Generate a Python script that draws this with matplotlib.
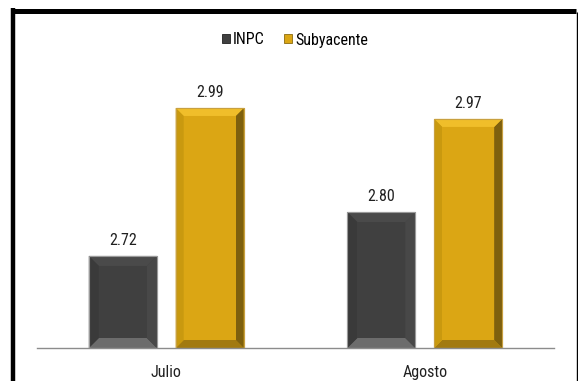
import matplotlib
matplotlib.use("Agg")
import matplotlib.pyplot as plt
from matplotlib.patches import Polygon, Rectangle
from matplotlib.lines import Line2D
import numpy as np

plt.rcParams['font.family'] = ['Roboto Condensed', 'Carlito', 'DejaVu Sans']

categories = ["Julio", "Agosto"]
series_names = ["INPC", "Subyacente"]
inpc = [2.72, 2.80]
subyacente = [2.99, 2.97]

W, H = 578, 381
fig = plt.figure(figsize=(W / 100, H / 100), dpi=100)
ax = fig.add_axes([37 / W, (H - 348) / H, (554 - 37) / W, (348 - 74) / H])
ax.set_xlim(-0.5, 1.5)
ax.set_ylim(2.552, 3.052)

x = np.arange(len(categories))
bw = 0.263
off = 0.168

styles = {
    "INPC": dict(face="#404040", top="#4a4a4a", left="#3a3a3a", right="#484848", bottom="#6c6c6c",
                 edge="#9a9a9a", bev=10),
    "Subyacente": dict(face="#DBA614", top="#F0BE2A", left="#C9990F", right="#7E600E", bottom="#A27A10",
                       edge="#C8A040", bev=8),
}

bars_all = []
for name, vals, o in [("INPC", inpc, -off), ("Subyacente", subyacente, off)]:
    st = styles[name]
    bars = ax.bar(x + o, vals, width=bw, bottom=0, color=st["face"], edgecolor=st["edge"], linewidth=0.8, zorder=2)
    bars_all.append((name, bars, vals))

fig.canvas.draw()
inv = ax.transData.inverted()
for name, bars, vals in bars_all:
    st = styles[name]
    bev = st["bev"]
    for b, v in zip(bars, vals):
        x0, y0 = b.get_x(), ax.get_ylim()[0]
        x1, y1 = b.get_x() + b.get_width(), v
        (px0, py0) = ax.transData.transform((x0, y0))
        (px1, py1) = ax.transData.transform((x1, y1))
        corners = [(px0, py0), (px1, py0), (px1, py1), (px0, py1)]
        inner = [(px0 + bev, py0 + bev), (px1 - bev, py0 + bev), (px1 - bev, py1 - bev), (px0 + bev, py1 - bev)]
        oc = inv.transform(corners)
        ic = inv.transform(inner)
        sides = [
            ([oc[0], oc[1], ic[1], ic[0]], st["bottom"]),
            ([oc[1], oc[2], ic[2], ic[1]], st["right"]),
            ([oc[2], oc[3], ic[3], ic[2]], st["top"]),
            ([oc[3], oc[0], ic[0], ic[3]], st["left"]),
        ]
        for pts, c in sides:
            ax.add_patch(Polygon(pts, closed=True, facecolor=c, edgecolor="none", zorder=3))
        ax.add_patch(Polygon(ic, closed=True, facecolor=st["face"], edgecolor="none", zorder=3))
        ax.add_patch(Rectangle((x0, y0), x1 - x0, y1 - y0, facecolor="none", edgecolor=st["edge"],
                               linewidth=0.8, zorder=4))
        ax.annotate(f"{v:.2f}", (b.get_x() + b.get_width() / 2, v), xytext=(0, 5.5),
                    textcoords="offset points", ha="center", va="bottom", fontsize=11.5, color="#202020")

for s in ["top", "right", "left"]:
    ax.spines[s].set_visible(False)
ax.spines["bottom"].set_color("#8c8c8c")
ax.spines["bottom"].set_linewidth(1.0)
ax.spines["bottom"].set_zorder(5)
ax.set_yticks([])
ax.set_xticks(x)
ax.set_xticklabels(categories, fontsize=11.5, color="#202020")
ax.tick_params(axis="x", length=0, pad=12)

handles = [Rectangle((0, 0), 1, 1, facecolor=styles[n]["face"],
                     edgecolor="#202020" if n == "INPC" else "#8a6a10", linewidth=0.6) for n in series_names]
fig.legend(handles, series_names, loc="center", bbox_to_anchor=(295 / W, 1 - 40 / H), ncol=2, frameon=False,
           fontsize=11.5, handlelength=0.5, handleheight=0.5, handletextpad=0.2, columnspacing=1.2)

# outer border
fig.add_artist(Line2D([13 / W, 13 / W], [0, 1 - 8 / H], color="black", linewidth=3.2,
                      transform=fig.transFigure, solid_capstyle="butt"))
fig.add_artist(Line2D([11 / W, 576 / W], [1 - 10.5 / H, 1 - 10.5 / H], color="black", linewidth=3.6,
                      transform=fig.transFigure, solid_capstyle="butt"))
fig.add_artist(Line2D([576.5 / W, 576.5 / W], [0, 1 - 12 / H], color="black", linewidth=1.0,
                      transform=fig.transFigure, solid_capstyle="butt"))

fig.savefig("out.png", dpi=100)
